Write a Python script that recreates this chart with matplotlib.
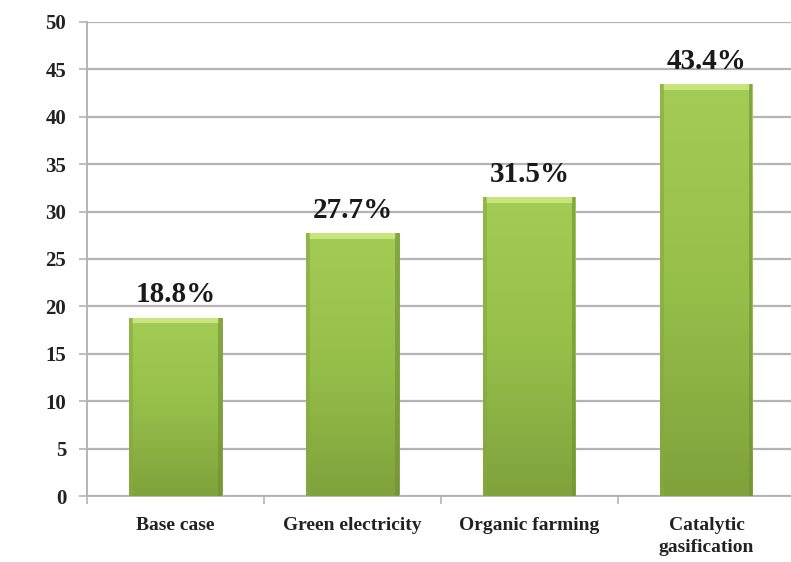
import numpy as np
import matplotlib
matplotlib.use("Agg")
import matplotlib.pyplot as plt
from matplotlib.colors import LinearSegmentedColormap

categories = ["Base case", "Green electricity", "Organic farming", "Catalytic\ngasification"]
values = [18.8, 27.7, 31.5, 43.4]
labels = ["18.8%", "27.7%", "31.5%", "43.4%"]
yticks = [0, 5, 10, 15, 20, 25, 30, 35, 40, 45, 50]

plt.rcParams['font.family'] = ['Liberation Serif', 'DejaVu Serif']

fig = plt.figure(figsize=(7.91, 5.62), dpi=100)
ax = fig.add_axes([0.110, 0.1174, 0.895, 0.8436])

x = np.arange(len(categories))
ax.set_xlim(-0.5, len(categories) - 0.5)
ax.set_ylim(0, 50)

grid_c = "#b4b4b4"
ax.set_yticks(yticks)
ax.yaxis.grid(True, color=grid_c, linewidth=1.6)
ax.set_axisbelow(True)

bars = ax.bar(x, values, width=0.52, color="#93bb48", edgecolor="#7a9c38", linewidth=0.6, zorder=2)

cmap = LinearSegmentedColormap.from_list("g", ["#7fa23c", "#96bf4a", "#a4cc55"])
grad = np.linspace(0, 1, 256).reshape(-1, 1)
for b, v in zip(bars, values):
    x0 = b.get_x(); w = b.get_width()
    im = ax.imshow(grad, cmap=cmap, aspect="auto", origin="lower",
                   extent=[x0, x0 + w, 0, v], zorder=3)
    im.set_clip_path(b)
    cap = 0.55
    ax.fill_between([x0 + 0.015, x0 + w - 0.015], [v - cap] * 2, [v] * 2,
                    color="#c6e57c", zorder=4, linewidth=0)
    ax.fill_between([x0, x0 + 0.02], [0, 0], [v, v], color="#86a93f", alpha=0.6, zorder=4, linewidth=0)
    ax.fill_between([x0 + w - 0.02, x0 + w], [0, 0], [v, v], color="#6f9032", alpha=0.6, zorder=4, linewidth=0)

for xi, v, lab in zip(x, values, labels):
    ax.text(xi, v + 1.0, lab, ha="center", va="bottom", fontsize=21,
            fontweight="bold", color="#1a1a1a")

ax.set_xticks(x)
ax.set_xticklabels(categories, fontsize=14, fontweight="bold", color="#222222",
                   linespacing=1.4)
ax.set_xticks(np.arange(len(categories) + 1) - 0.5, minor=True)
ax.tick_params(axis="x", which="major", length=0, pad=15)
ax.tick_params(axis="x", which="minor", length=6, color=grid_c, width=1.2)
ax.tick_params(axis="y", length=6, color=grid_c, width=1.2, labelsize=15, pad=9)
for t in ax.get_yticklabels():
    t.set_fontweight("bold"); t.set_color("#222222")

for s in ["top", "right"]:
    ax.spines[s].set_visible(False)
for s in ["left", "bottom"]:
    ax.spines[s].set_color(grid_c)
    ax.spines[s].set_linewidth(1.4)

fig.savefig("out.png", dpi=100)
